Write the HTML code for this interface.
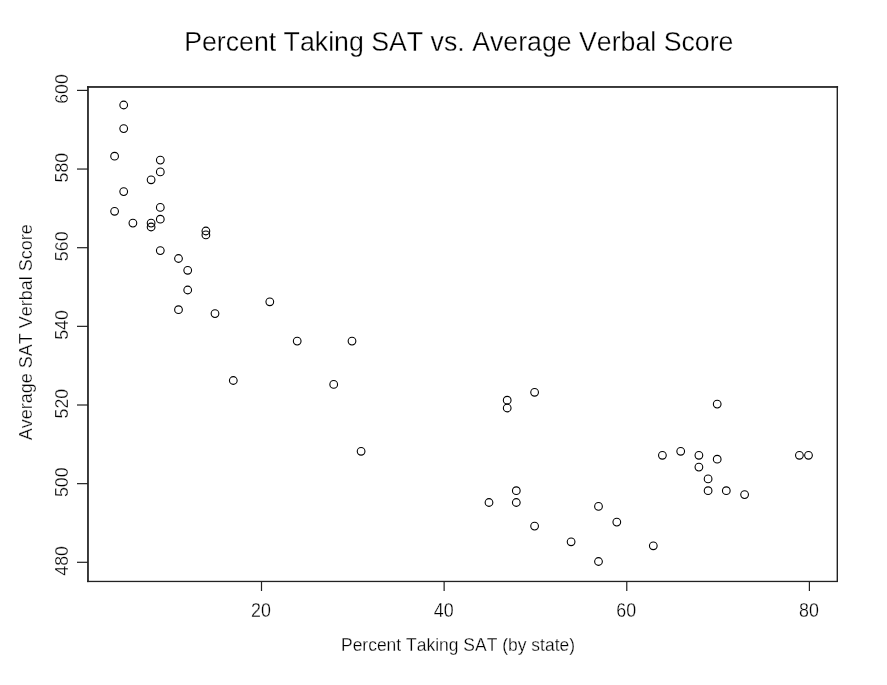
<!DOCTYPE html>
<html><head><meta charset="utf-8"><title>Percent Taking SAT vs. Average Verbal Score</title>
<style>
html,body{margin:0;padding:0;background:#fff;}
svg{display:block;}
text{font-family:"Liberation Sans",Arial,sans-serif;fill:#000;font-kerning:none;}
.ln{stroke:#000;stroke-width:1;fill:none;shape-rendering:crispEdges;}
.f{fill:#222;stroke:none;}
.l{stroke:#fff;stroke-width:0.28px;}
.c{stroke:#000;stroke-width:1.1;fill:none;}
</style></head><body>
<svg width="887" height="685" viewBox="0 0 887 685">
<rect width="887" height="685" fill="#fff"/>
<rect class="f" x="87.1" y="86.1" width="1.75" height="496"/>
<rect class="f" x="87.1" y="86.1" width="751" height="1.75"/>
<rect class="f" x="836.6" y="86" width="1.4" height="496"/>
<rect class="f" x="87" y="580.8" width="751" height="1.3"/>
<rect class="f" x="260.90" y="581" width="1.2" height="10"/>
<text class="l" font-size="19" transform="translate(261.00,616.80) scale(0.94,1.03)" text-anchor="middle">20</text>
<rect class="f" x="443.53" y="581" width="1.2" height="10"/>
<text class="l" font-size="19" transform="translate(443.63,616.80) scale(0.94,1.03)" text-anchor="middle">40</text>
<rect class="f" x="626.17" y="581" width="1.2" height="10"/>
<text class="l" font-size="19" transform="translate(626.27,616.80) scale(0.94,1.03)" text-anchor="middle">60</text>
<rect class="f" x="808.80" y="581" width="1.2" height="10"/>
<text class="l" font-size="19" transform="translate(808.90,616.80) scale(0.94,1.03)" text-anchor="middle">80</text>
<rect class="f" x="77" y="561.70" width="11" height="1.2"/>
<text class="l" font-size="19" transform="translate(68.00,560.90) rotate(-90) scale(0.937,1.0)" text-anchor="middle">480</text>
<rect class="f" x="77" y="483.05" width="11" height="1.2"/>
<text class="l" font-size="19" transform="translate(68.00,482.25) rotate(-90) scale(0.937,1.0)" text-anchor="middle">500</text>
<rect class="f" x="77" y="404.40" width="11" height="1.2"/>
<text class="l" font-size="19" transform="translate(68.00,403.60) rotate(-90) scale(0.937,1.0)" text-anchor="middle">520</text>
<rect class="f" x="77" y="325.75" width="11" height="1.2"/>
<text class="l" font-size="19" transform="translate(68.00,324.95) rotate(-90) scale(0.937,1.0)" text-anchor="middle">540</text>
<rect class="f" x="77" y="247.10" width="11" height="1.2"/>
<text class="l" font-size="19" transform="translate(68.00,246.30) rotate(-90) scale(0.937,1.0)" text-anchor="middle">560</text>
<rect class="f" x="77" y="168.45" width="11" height="1.2"/>
<text class="l" font-size="19" transform="translate(68.00,167.65) rotate(-90) scale(0.937,1.0)" text-anchor="middle">580</text>
<rect class="f" x="77" y="89.80" width="11" height="1.2"/>
<text class="l" font-size="19" transform="translate(68.00,89.00) rotate(-90) scale(0.937,1.0)" text-anchor="middle">600</text>
<text class="l" font-size="27.6" transform="translate(458.80,50.50) scale(0.968,1.0)" text-anchor="middle">Percent Taking SAT vs. Average Verbal Score</text>
<text class="l" font-size="19" transform="translate(458.00,651.10) scale(0.92,1.0)" text-anchor="middle">Percent Taking SAT (by state)</text>
<text class="l" font-size="19" transform="translate(32.40,332.20) rotate(-90) scale(0.948,1.0)" text-anchor="middle">Average SAT Verbal Score</text>
<circle class="c" cx="123.7" cy="105.0" r="3.85"/>
<circle class="c" cx="123.7" cy="128.6" r="3.85"/>
<circle class="c" cx="114.6" cy="156.2" r="3.85"/>
<circle class="c" cx="160.3" cy="160.1" r="3.85"/>
<circle class="c" cx="160.3" cy="171.9" r="3.85"/>
<circle class="c" cx="151.1" cy="179.8" r="3.85"/>
<circle class="c" cx="123.7" cy="191.6" r="3.85"/>
<circle class="c" cx="160.3" cy="207.4" r="3.85"/>
<circle class="c" cx="114.6" cy="211.3" r="3.85"/>
<circle class="c" cx="160.3" cy="219.2" r="3.85"/>
<circle class="c" cx="132.9" cy="223.1" r="3.85"/>
<circle class="c" cx="151.1" cy="223.1" r="3.85"/>
<circle class="c" cx="151.1" cy="227.0" r="3.85"/>
<circle class="c" cx="205.9" cy="231.0" r="3.85"/>
<circle class="c" cx="205.9" cy="234.9" r="3.85"/>
<circle class="c" cx="160.3" cy="250.6" r="3.85"/>
<circle class="c" cx="178.5" cy="258.5" r="3.85"/>
<circle class="c" cx="187.7" cy="270.3" r="3.85"/>
<circle class="c" cx="187.7" cy="290.0" r="3.85"/>
<circle class="c" cx="178.5" cy="309.7" r="3.85"/>
<circle class="c" cx="215.0" cy="313.6" r="3.85"/>
<circle class="c" cx="269.8" cy="301.8" r="3.85"/>
<circle class="c" cx="297.2" cy="341.1" r="3.85"/>
<circle class="c" cx="352.0" cy="341.1" r="3.85"/>
<circle class="c" cx="233.3" cy="380.5" r="3.85"/>
<circle class="c" cx="333.7" cy="384.4" r="3.85"/>
<circle class="c" cx="361.1" cy="451.3" r="3.85"/>
<circle class="c" cx="507.2" cy="400.2" r="3.85"/>
<circle class="c" cx="507.2" cy="408.0" r="3.85"/>
<circle class="c" cx="534.6" cy="392.3" r="3.85"/>
<circle class="c" cx="489.0" cy="502.5" r="3.85"/>
<circle class="c" cx="516.3" cy="490.7" r="3.85"/>
<circle class="c" cx="516.3" cy="502.5" r="3.85"/>
<circle class="c" cx="534.6" cy="526.1" r="3.85"/>
<circle class="c" cx="571.1" cy="541.8" r="3.85"/>
<circle class="c" cx="598.5" cy="506.4" r="3.85"/>
<circle class="c" cx="598.5" cy="561.5" r="3.85"/>
<circle class="c" cx="616.8" cy="522.1" r="3.85"/>
<circle class="c" cx="653.3" cy="545.8" r="3.85"/>
<circle class="c" cx="662.4" cy="455.3" r="3.85"/>
<circle class="c" cx="680.7" cy="451.3" r="3.85"/>
<circle class="c" cx="698.9" cy="455.3" r="3.85"/>
<circle class="c" cx="698.9" cy="467.1" r="3.85"/>
<circle class="c" cx="708.1" cy="478.9" r="3.85"/>
<circle class="c" cx="708.1" cy="490.7" r="3.85"/>
<circle class="c" cx="717.2" cy="404.1" r="3.85"/>
<circle class="c" cx="717.2" cy="459.2" r="3.85"/>
<circle class="c" cx="726.3" cy="490.7" r="3.85"/>
<circle class="c" cx="744.6" cy="494.6" r="3.85"/>
<circle class="c" cx="799.4" cy="455.3" r="3.85"/>
<circle class="c" cx="808.5" cy="455.3" r="3.85"/>
</svg></body></html>
